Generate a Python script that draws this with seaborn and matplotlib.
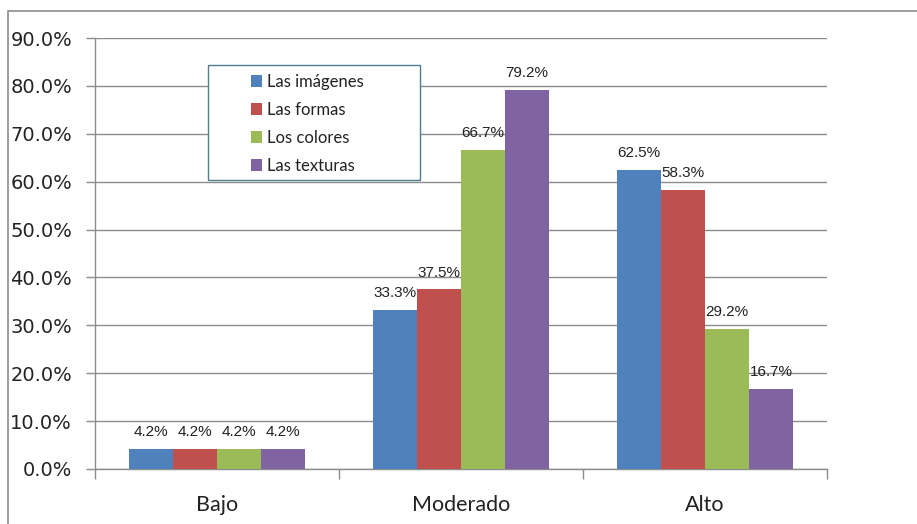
import numpy as np
import pandas as pd
import matplotlib.pyplot as plt
import seaborn as sns
from matplotlib.patches import Patch, Rectangle
from matplotlib.ticker import FuncFormatter, FixedLocator

# datos del grafico
niveles = ['Bajo', 'Moderado', 'Alto']
aspectos = ['Las imágenes', 'Las formas', 'Los colores', 'Las texturas']
imagenes = [4.2, 33.3, 62.5]
formas = [4.2, 37.5, 58.3]
colores = [4.2, 66.7, 29.2]
texturas = [4.2, 79.2, 16.7]
paleta = ['#4F81BD', '#C0504D', '#9BBB59', '#8064A2']

df = pd.DataFrame({
    'Nivel': niveles * 4,
    'Aspecto': np.repeat(aspectos, 3),
    'Valor': imagenes + formas + colores + texturas,
})

sns.set_style('white')
plt.rcParams['font.family'] = ['DejaVu Sans']

fig = plt.figure(figsize=(9.17, 5.24), dpi=100)
ax = fig.add_axes([95 / 917, 1 - 469 / 524, 732 / 917, 431 / 524])

sns.barplot(data=df, x='Nivel', y='Valor', hue='Aspecto', order=niveles,
            hue_order=aspectos, palette=paleta, width=0.72, saturation=1,
            linewidth=0, ax=ax, zorder=3)

for cont in ax.containers:
    ax.bar_label(cont, labels=['%.1f%%' % b.get_height() for b in cont],
                 padding=7, fontsize=11, color='#222222',
                 family='Liberation Sans')

ax.set_ylim(0, 90)
ax.set_xlim(-0.5, 2.5)
ax.set_yticks(np.arange(0, 91, 10))
ax.yaxis.set_major_formatter(FuncFormatter(lambda v, p: '%.1f%%' % v))
ax.grid(axis='y', color='#8c8c8c', linewidth=1, zorder=0)
ax.set_axisbelow(True)
ax.set_xlabel('')
ax.set_ylabel('')

for s in ['top', 'right']:
    ax.spines[s].set_visible(False)
for s in ['left', 'bottom']:
    ax.spines[s].set_color('#8c8c8c')
    ax.spines[s].set_linewidth(1)

ax.tick_params(axis='y', left=True, length=6.5, width=1, color='#8c8c8c',
               pad=10, labelsize=14, labelcolor='#222222')
ax.xaxis.set_minor_locator(FixedLocator([-0.5, 0.5, 1.5, 2.5]))
ax.tick_params(axis='x', which='major', length=0, pad=19, labelsize=15.5,
               labelcolor='#222222')
ax.tick_params(axis='x', which='minor', bottom=True, length=7, width=1,
               color='#8c8c8c')
for t in ax.get_xticklabels():
    t.set_family('Lato')

# leyenda con caja propia
ax.get_legend().remove()
ax.add_patch(Rectangle((0.154, 0.670), 0.29, 0.267, transform=ax.transAxes,
                       facecolor='white', edgecolor='#4d7f8c', linewidth=1,
                       zorder=4))
handles = [Patch(facecolor=c, edgecolor='none') for c in paleta]
leg = ax.legend(handles, aspectos, loc='upper left',
                bbox_to_anchor=(0.2125, 0.917), frameon=False,
                prop={'family': 'Lato', 'size': 12}, handlelength=0.7,
                handleheight=0.7, handletextpad=0.3, labelspacing=0.72,
                borderaxespad=0, borderpad=0)
leg.set_zorder(5)
for t in leg.get_texts():
    t.set_color('#222222')

# borde exterior del grafico
fig.patches.append(Rectangle((8 / 917, -0.1), 1.0, 1 - 11 / 524 + 0.1,
                             transform=fig.transFigure, fill=False,
                             edgecolor='#8c8c8c', linewidth=1.2))

fig.savefig('out.png', dpi=100)
